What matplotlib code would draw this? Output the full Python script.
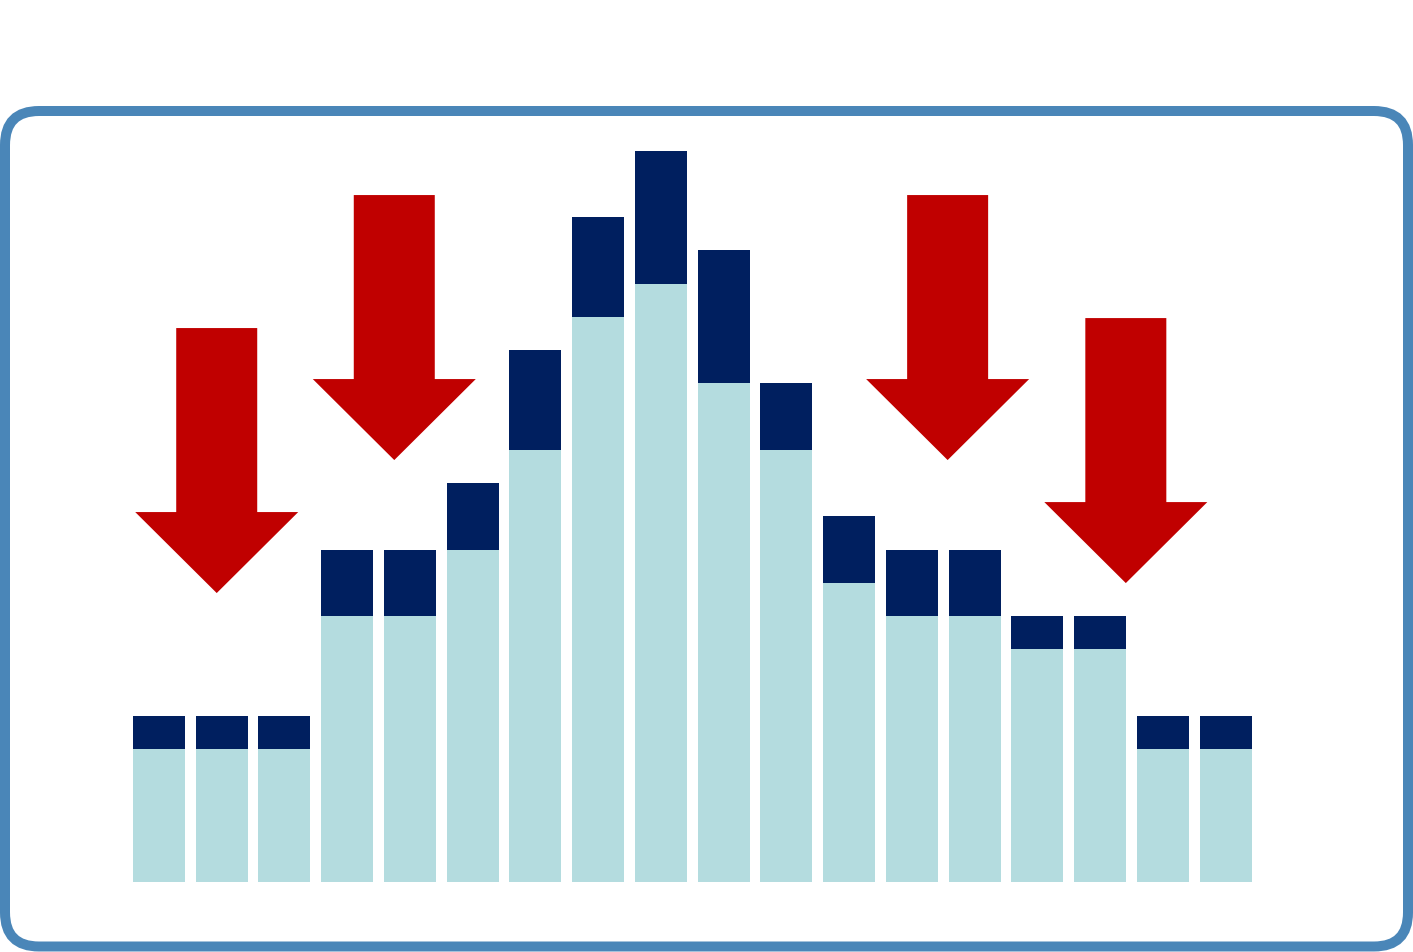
import matplotlib
matplotlib.use("Agg")
import matplotlib.pyplot as plt
from matplotlib.patches import FancyBboxPatch, Polygon
from matplotlib.transforms import IdentityTransform
import numpy as np

# Data
base_values = [4, 4, 4, 8, 8, 10, 13, 17, 18, 15, 13, 9, 8, 8, 7, 7, 4, 4]
top_values = [1, 1, 1, 2, 2, 2, 3, 3, 4, 4, 2, 2, 2, 2, 1, 1, 1, 1]
# arrows: x centre (bar index units), top, tip (value units)
arrow_x = [0.92, 3.75, 12.57, 15.41]
arrow_top = [16.66, 20.66, 20.66, 16.96]
arrow_tip = [8.69, 12.69, 12.69, 8.99]

LIGHT = "#B4DCDF"
DARK = "#001F5F"
RED = "#C00000"
BORDER = "#4A86B8"

W, H = 1413, 952
SX = 62.74
fig = plt.figure(figsize=(W / 100, H / 100), dpi=100)
fig.patch.set_facecolor("white")

ax = fig.add_axes([0, 0, 1, 1])
ax.set_xlim(-159 / SX, (W - 159) / SX)
ax.set_ylim(-(H - 882) / 33.25, 882 / 33.25)
ax.axis("off")

bx0, by0 = 5, H - 946.5
bw, bh = 1403, 835.5
rb = FancyBboxPatch((bx0, by0), bw, bh,
                    boxstyle="round,pad=0,rounding_size=34",
                    transform=IdentityTransform(), fill=False,
                    edgecolor=BORDER, linewidth=7.2, zorder=5)
fig.add_artist(rb)

x = np.arange(len(base_values))
ax.bar(x, base_values, width=52 / SX, color=LIGHT, linewidth=0)
ax.bar(x, top_values, bottom=base_values, width=52 / SX, color=DARK, linewidth=0)

shaft_half = 40.5 / SX
head_half = 81.5 / SX
head_len = 81 / 33.25
for ax_x, top, tip in zip(arrow_x, arrow_top, arrow_tip):
    hb = tip + head_len
    pts = [(ax_x - shaft_half, top), (ax_x + shaft_half, top),
           (ax_x + shaft_half, hb), (ax_x + head_half, hb),
           (ax_x, tip), (ax_x - head_half, hb), (ax_x - shaft_half, hb)]
    ax.add_patch(Polygon(pts, closed=True, facecolor=RED, edgecolor="none", zorder=4))

fig.savefig("out.png", dpi=100)
